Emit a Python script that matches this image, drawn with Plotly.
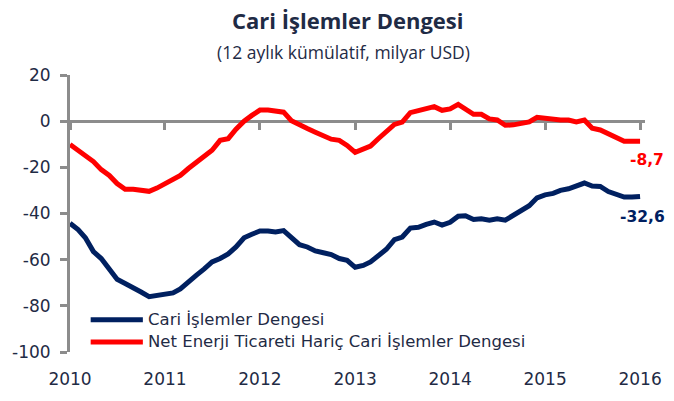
import pandas as pd
import plotly.graph_objects as go

# ---- data (12-month cumulative, billion USD) ----
months = pd.date_range("2010-01-01", "2016-01-01", freq="MS")

cari_islemler = [
    -44.2, -47.0, -50.5, -56.5, -59.5, -64.0, -68.5, -70.3, -72.0, -74.0, -76.0, -75.5,
    -74.6, -74.4, -72.7, -69.5, -66.8, -64.0, -61.0, -59.5, -57.5, -54.5, -50.5, -49.0,
    -47.6, -47.6, -48.0, -47.4, -50.5, -53.5, -54.5, -56.2, -57.0, -57.8, -59.5, -60.3,
    -63.3, -62.5, -61.0, -58.5, -55.5, -51.3, -50.2, -46.3, -46.0, -44.7, -43.7, -45.0,
    -43.8, -41.2, -41.0, -42.6, -42.3, -42.9, -42.3, -42.9, -40.8, -38.8, -36.6, -33.2,
    -31.9, -31.3, -30.0, -29.3, -28.3, -26.8, -28.1, -28.3, -30.5, -31.8, -32.9, -32.9,
    -32.6,
]
enerji_haric = [
    -10.1, -12.5, -14.9, -17.5, -21.0, -23.5, -27.0, -29.5, -29.5, -29.8, -30.4, -29.0,
    -27.3, -25.5, -23.5, -20.5, -17.7, -14.8, -12.6, -8.3, -7.6, -3.5, 0.0, 2.5,
    4.8, 4.8, 4.2, 3.9, 0.2, -1.8, -3.2, -4.8, -6.5, -7.8, -8.3, -10.5,
    -13.5, -12.3, -10.8, -7.5, -4.6, -1.4, -0.4, 3.7, 4.6, 5.5, 6.3, 4.7,
    5.3, 7.3, 5.5, 3.0, 3.0, 1.0, 0.5, -1.8, -1.6, -1.2, -0.3, 1.7,
    1.3, 0.6, 0.5, 0.5, -0.3, 0.5, -3.1, -3.8, -5.3, -7.0, -8.7, -8.7,
    -8.7,
]

series_names = ["Cari İşlemler Dengesi", "Net Enerji Ticareti Hariç Cari İşlemler Dengesi"]
year_tick_vals = pd.date_range("2010-01-01", "2016-01-01", freq="YS")
year_tick_text = ["2010", "2011", "2012", "2013", "2014", "2015", "2016"]
y_tick_vals = [20, 0, -20, -40, -60, -80, -100]
y_tick_text = ["20", "0", "-20", "-40", "-60", "-80", "-100"]

title_text = "Cari İşlemler Dengesi"
subtitle_text = "(12 aylık kümülatif, milyar USD)"

# ---- style ----
BLUE = "#002060"
RED = "#FF0000"
TEXT = "#1f2b45"
AXIS = "#8c8c8c"
FONT = "DejaVu Sans"

W, H = 674, 401
L, R, T, B = 67, 23, 75, 37.5
pw, ph = W - L - R, H - T - B


def px_x(p):
    return (p - L) / pw


def px_y(p):
    return (H - B - p) / ph


fig = go.Figure()
fig.add_trace(go.Scatter(x=months, y=cari_islemler, mode="lines", name=series_names[0],
                         line=dict(color=BLUE, width=5), showlegend=False,
                         xaxis="x", yaxis="y"))
fig.add_trace(go.Scatter(x=months, y=enerji_haric, mode="lines", name=series_names[1],
                         line=dict(color=RED, width=5), showlegend=False,
                         xaxis="x2", yaxis="y"))

x_range = [months[0], months[-1] + pd.Timedelta(days=19)]

annotations = [
    dict(text="<b>" + title_text + "</b>", xref="paper", yref="paper",
         x=px_x(349), y=px_y(18), xanchor="center", yanchor="middle", showarrow=False,
         font=dict(family="Open Sans", size=22, color=TEXT)),
    dict(text=subtitle_text, xref="paper", yref="paper",
         x=px_x(345), y=px_y(51), xanchor="center", yanchor="middle", showarrow=False,
         font=dict(family="Open Sans", size=17.5, color=TEXT)),
    dict(text="<b>" + f"{enerji_haric[-1]:.1f}".replace(".", ",") + "</b>",
         xref="paper", yref="paper", x=px_x(672), y=px_y(164),
         xanchor="right", yanchor="middle", showarrow=False,
         font=dict(family=FONT, size=15.5, color=RED)),
    dict(text="<b>" + f"{cari_islemler[-1]:.1f}".replace(".", ",") + "</b>",
         xref="paper", yref="paper", x=px_x(673), y=px_y(223),
         xanchor="right", yanchor="middle", showarrow=False,
         font=dict(family=FONT, size=15.5, color=BLUE)),
]

# custom legend
shapes = []
for name, color, ypix in [(series_names[0], BLUE, 330), (series_names[1], RED, 353)]:
    shapes.append(dict(type="line", xref="paper", yref="paper",
                       x0=px_x(88), x1=px_x(141), y0=px_y(ypix), y1=px_y(ypix),
                       line=dict(color=color, width=5)))
    annotations.append(dict(text=name, xref="paper", yref="paper",
                            x=px_x(144), y=px_y(ypix), xanchor="left", yanchor="middle",
                            showarrow=False,
                            font=dict(family=FONT, size=16.5, color=TEXT)))

fig.update_layout(
    width=W, height=H,
    margin=dict(l=L, r=R, t=T, b=B, pad=0),
    paper_bgcolor="white", plot_bgcolor="white",
    showlegend=False,
    hovermode=False,
    xaxis=dict(type="date", range=x_range, tickvals=year_tick_vals, ticktext=year_tick_text,
               showgrid=False, zeroline=False, showline=False,
               ticks="outside", ticklen=12, tickcolor="rgba(0,0,0,0)",
               tickfont=dict(family=FONT, size=17, color=TEXT)),
    xaxis2=dict(type="date", matches="x", overlaying="x", anchor="free",
                position=100 / 120, range=x_range, tickvals=year_tick_vals,
                showticklabels=False, showgrid=False, zeroline=False,
                showline=True, linecolor=AXIS, linewidth=3, layer="below traces",
                ticks="outside", ticklen=7, tickwidth=3, tickcolor=AXIS),
    yaxis=dict(range=[-100, 20], tickvals=y_tick_vals, ticktext=y_tick_text,
               showgrid=False, zeroline=False, showline=True, linecolor=AXIS, linewidth=3,
               ticks="outside", ticklen=7, tickwidth=3, tickcolor=AXIS,
               ticklabelstandoff=6,
               tickfont=dict(family=FONT, size=17, color=TEXT)),
    annotations=annotations,
    shapes=shapes,
)

fig.write_html("out.html",
               config={"displayModeBar": False},
               post_script="document.body.style.margin='0';document.body.style.overflow='hidden';")
